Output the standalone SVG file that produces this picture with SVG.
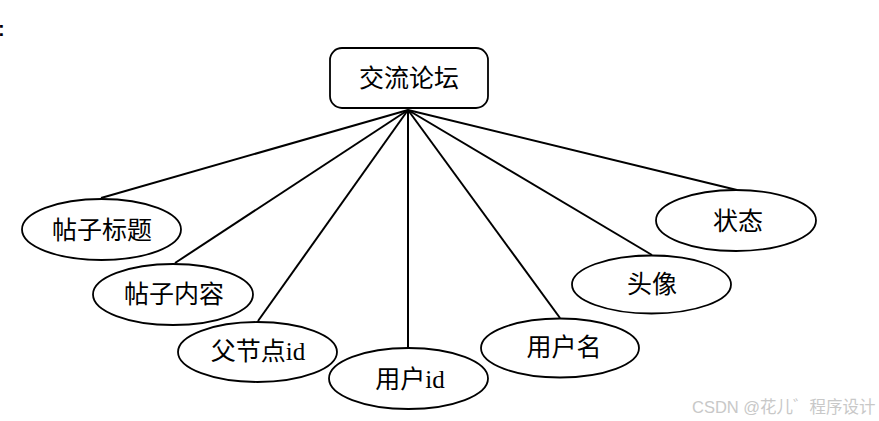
<svg xmlns="http://www.w3.org/2000/svg" width="879" height="421" viewBox="0 0 879 421">
<style>
.n{fill:#fff;stroke:#000;stroke-width:1.8}
.t{font-family:"Liberation Serif","Noto Sans CJK SC",serif;font-size:25px;fill:#000;text-anchor:middle;dominant-baseline:central}
.c line{stroke:#000;stroke-width:2}
.w{font-family:"Liberation Sans","Noto Sans CJK SC",sans-serif;font-size:16.5px;fill:#c8c8c8}
</style>
<rect width="879" height="421" fill="#fff"/>
<text x="-2" y="36" style="font-family:'Liberation Sans',sans-serif;font-size:20px;font-weight:bold;fill:#000">:</text>
<g class="c" id="connectors">
<line x1="408" y1="110" x2="101" y2="198"/>
<line x1="408" y1="110" x2="175" y2="263"/>
<line x1="408" y1="110" x2="258" y2="321"/>
<line x1="408" y1="110" x2="408" y2="348"/>
<line x1="408" y1="110" x2="560" y2="318"/>
<line x1="408" y1="110" x2="652" y2="255"/>
<line x1="408" y1="110" x2="737" y2="190"/>
</g>
<g id="forum"><rect class="n" x="330" y="48" width="158" height="60" rx="12"/><text class="t" x="409" y="78">交流论坛</text></g>
<g id="title"><ellipse class="n" cx="101.5" cy="229.5" rx="79.5" ry="30.5"/><text class="t" x="102" y="230">帖子标题</text></g>
<g id="content"><ellipse class="n" cx="173" cy="294.5" rx="80" ry="30.5"/><text class="t" x="174" y="294">帖子内容</text></g>
<g id="parent"><ellipse class="n" cx="257.5" cy="352" rx="79.5" ry="30"/><text class="t" x="258" y="351">父节点id</text></g>
<g id="uid"><ellipse class="n" cx="408.5" cy="378.5" rx="79.5" ry="30.5"/><text class="t" x="410" y="379">用户id</text></g>
<g id="uname"><ellipse class="n" cx="560" cy="348" rx="79" ry="29.5"/><text class="t" x="564" y="347">用户名</text></g>
<g id="avatar"><ellipse class="n" cx="651.5" cy="284.5" rx="79.5" ry="29"/><text class="t" x="652" y="284">头像</text></g>
<g id="status"><ellipse class="n" cx="736" cy="220.5" rx="80" ry="30.5"/><text class="t" x="738" y="221">状态</text></g>
<text class="w" x="692" y="413">CSDN @花儿゛程序设计</text>
</svg>
